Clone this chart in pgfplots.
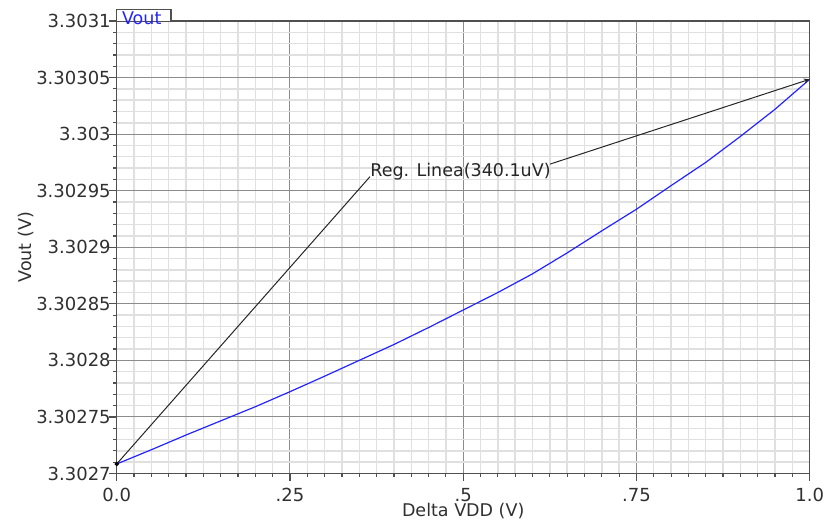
\documentclass[border=0pt]{standalone}
\usepackage{fontspec}
\setmainfont{DejaVu Sans}
\usepackage{pgfplots}
\usepackage{pgfplotstable}
\pgfplotsset{compat=1.18}
\usetikzlibrary{arrows.meta}

\definecolor{frame}{HTML}{505050}
\definecolor{majgrid}{HTML}{8C8C8C}
\definecolor{mingrid}{HTML}{E0E0E0}
\definecolor{vout}{HTML}{2424FF}
\definecolor{txt}{HTML}{303030}

% Vout versus supply step; Vout given in uV above 3.3027 V
\pgfplotstableread{
dv    uv
0.00  8.4
0.05  21.0
0.10  34.0
0.15  46.5
0.17  51.5
0.20  59.0
0.25  72.3
0.30  86.0
0.35  100.0
0.40  114.0
0.45  129.0
0.50  144.5
0.55  160.0
0.60  176.5
0.65  195.0
0.70  214.5
0.75  233.6
0.80  254.5
0.85  275.0
0.90  298.0
0.95  322.0
1.00  348.5
}\voutdata

\begin{document}
\begin{tikzpicture}[font=\fontsize{8.75bp}{10bp}\selectfont]
\path[use as bounding box] (-58.35bp,-25.75bp) rectangle (354.15bp,236.75bp);
\begin{axis}[
  at={(0,0)}, anchor=south west,
  scale only axis, width=346.5bp, height=226.25bp,
  xmin=0, xmax=1, ymin=0, ymax=400,
  xtick={0,0.25,0.5,0.75,1}, xticklabels={0.0,.25,.5,.75,1.0},
  ytick={0,50,...,400},
  yticklabels={3.3027,3.30275,3.3028,3.30285,3.3029,3.30295,3.303,3.30305,3.3031},
  minor x tick num=9, minor y tick num=4,
  grid=both,
  major grid style={line width=0.5bp, majgrid},
  minor grid style={line width=0.7bp, mingrid},
  axis line style={line width=0.75bp, frame},
  tick pos=left, tick align=outside,
  major tick length=3.8bp, minor tick length=1.7bp,
  tick style={line width=0.6bp, frame},
  ticklabel style={text=txt, font=\fontsize{9bp}{10bp}\selectfont},
  yticklabel style={inner sep=0bp, xshift=1bp},
  xlabel={Delta VDD (V)}, ylabel={Vout (V)},
  label style={text=txt, font=\fontsize{8.75bp}{10bp}\selectfont},
  xlabel style={at={(axis description cs:0.5,-0.0955)}, anchor=base},
  ylabel style={at={(axis description cs:-0.1227,0.5)}, anchor=base},
  clip=false,
]
\addplot[vout, line width=0.6bp] table[x=dv, y=uv] {\voutdata};
% regulation delta marker
\addplot[black!85, line width=0.5bp] coordinates {(0,8.4) (0.3655,262.4)};
\addplot[black!85, line width=0.5bp, -{Stealth[length=3bp,width=2.6bp]}]
  coordinates {(0.6253,273.5) (1,348.5)};
\addplot[only marks, mark=*, mark size=0.9bp, black] coordinates {(0,8.4)};
\node[anchor=base west, inner sep=0, text=black!85] at (axis cs:0.3655,262.4) {Reg. Linea(340.1uV)};
% trace tab
\draw[frame, line width=0.75bp, fill=white] (rel axis cs:0,1) -- ++(0,5.85bp) -- ++(27.15bp,0) -- ++(0,-5.85bp);
\node[anchor=base west, inner sep=0, text=vout, xshift=2.5bp, yshift=-1.5bp] at (rel axis cs:0,1) {Vout};
\end{axis}
\end{tikzpicture}
\end{document}
